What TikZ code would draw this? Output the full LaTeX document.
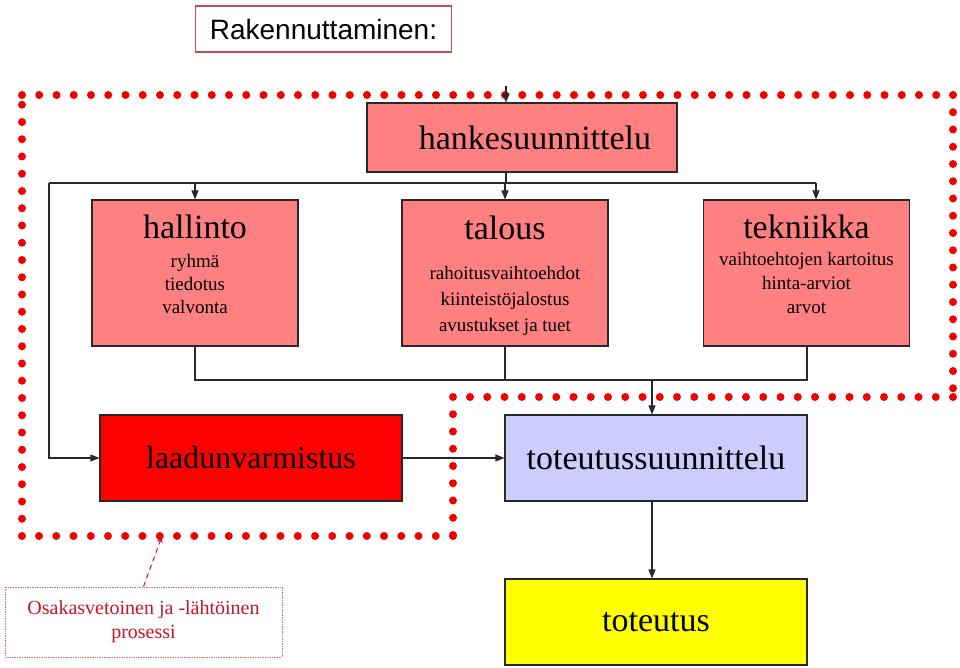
\documentclass[tikz,border=0pt]{standalone}
\usepackage{fontspec}
\setmainfont{Liberation Serif}
\newfontfamily\headfont{Liberation Sans}
\usepackage{tikz}
\usetikzlibrary{arrows.meta,positioning,calc}
\definecolor{salmonbox}{RGB}{255,128,128}
\definecolor{qualityred}{RGB}{255,0,0}
\definecolor{lavenderbox}{RGB}{204,204,255}
\definecolor{yellowbox}{RGB}{255,255,0}
\definecolor{darkline}{RGB}{40,40,40}
\definecolor{dotred}{RGB}{240,0,0}
\definecolor{notered}{RGB}{200,20,40}
\definecolor{framered}{RGB}{192,80,80}

\begin{document}
\begin{tikzpicture}[x=1pt, y=-1pt,
    box/.style={rectangle, draw=darkline, line width=1.1pt, inner sep=0pt, align=center},
    bigbox/.style={box, fill=salmonbox, minimum width=206pt, minimum height=146pt},
    widebox/.style={box, minimum width=302pt, minimum height=86pt, font=\fontsize{34}{40}\selectfont},
    arrow/.style={line width=1.1pt, draw=darkline, -{Triangle[length=9pt,width=7pt]}},
    link/.style={line width=1.1pt, draw=darkline},
    dotline/.style={draw=dotred, line width=8pt, line cap=round, dash pattern=on 0pt off 17.25pt},
    notebox/.style={rectangle, draw=framered!80, densely dotted, line width=0.7pt, text=notered, align=center, font=\fontsize{20}{24}\selectfont},
    notearrow/.style={draw=notered, line width=1pt, dash pattern=on 5pt off 4pt, -{Stealth[length=7pt,width=6pt]}}
]
    \useasboundingbox (0,0) rectangle (960,668);

    % dotted frame
    \draw[dotline] (22,95) -- (953,95);
    \draw[dotline] (953,95) -- (953,397);
    \draw[dotline] (953,397) -- (453,397);
    \draw[dotline] (453,397) -- (453,536);
    \draw[dotline] (453,536) -- (22,536);
    \draw[dotline] (22,536) -- (22,95);

    \node[box, draw=framered, minimum width=256pt, minimum height=46pt, font=\headfont\fontsize{28}{32}\selectfont] (title) at (323.5,29) {Rakennuttaminen:};

    \node[box, fill=salmonbox, minimum width=310pt, minimum height=69pt, font=\fontsize{34}{40}\selectfont] (hanke) at (522,137.5) {\hspace*{26pt}hankesuunnittelu};

    \node[bigbox, font=\fontsize{19}{23}\selectfont] (hallinto) at (195,273) {{\fontsize{34}{40}\selectfont hallinto}\\[6pt]ryhmä\\tiedotus\\valvonta\rule[-18pt]{0pt}{0pt}};
    \node[bigbox, font=\fontsize{19}{26}\selectfont] (talous) at (505,273) {{\fontsize{34}{40}\selectfont\rule{0pt}{29pt}talous}\\[13.5pt]rahoitusvaihtoehdot\\kiinteistöjalostus\\avustukset ja tuet};
    \node[bigbox, font=\fontsize{19}{24}\selectfont] (tekniikka) at (806.5,273) {{\fontsize{34}{40}\selectfont tekniikka}\\[3pt]vaihtoehtojen kartoitus\\hinta-arviot\\arvot\rule[-18pt]{0pt}{0pt}};

    \node[widebox, fill=qualityred, font=\fontsize{32}{38}\selectfont] (laadun) at (251,458) {laadunvarmistus};
    \node[widebox, fill=lavenderbox] (tsuun) at (656,458) {toteutussuunnittelu};
    \node[widebox, fill=yellowbox] (toteutus) at (656,622) {toteutus};

    \node[notebox, minimum width=277pt, minimum height=70pt] (note) at (143.5,622) {Osakasvetoinen ja -lähtöinen\\prosessi};

    \coordinate (feed) at (506,86);
    \coordinate (splitL) at (49,183);
    \coordinate (splitR) at (816,183);
    \coordinate (mergeL) at (195,380);
    \coordinate (mergeR) at (807,380);
    \coordinate (drop) at (652,380);
    \coordinate (gap) at (162,536);

    % connectors
    \draw[arrow] (feed) -- (feed |- hanke.north);
    \draw[link] (feed |- hanke.south) -- (feed |- splitL);
    \draw[link] (splitL) -- (splitR);
    \draw[arrow] (hallinto.north |- splitL) -- (hallinto.north);
    \draw[arrow] (talous.north |- splitL) -- (talous.north);
    \draw[arrow] (splitR) -- (splitR |- tekniikka.north);
    \draw[arrow] (splitL) |- (laadun.west);
    \draw[link] (hallinto.south) -- (mergeL) -- (mergeR) -- (mergeR |- tekniikka.south);
    \draw[link] (talous.south) -- (talous.south |- mergeL);
    \draw[arrow] (drop) -- (drop |- tsuun.north);
    \draw[arrow] (laadun.east) -- (tsuun.west);
    \draw[arrow] (drop |- tsuun.south) -- (drop |- toteutus.north);
    \draw[notearrow] (note.north) -- (gap);
\end{tikzpicture}
\end{document}
